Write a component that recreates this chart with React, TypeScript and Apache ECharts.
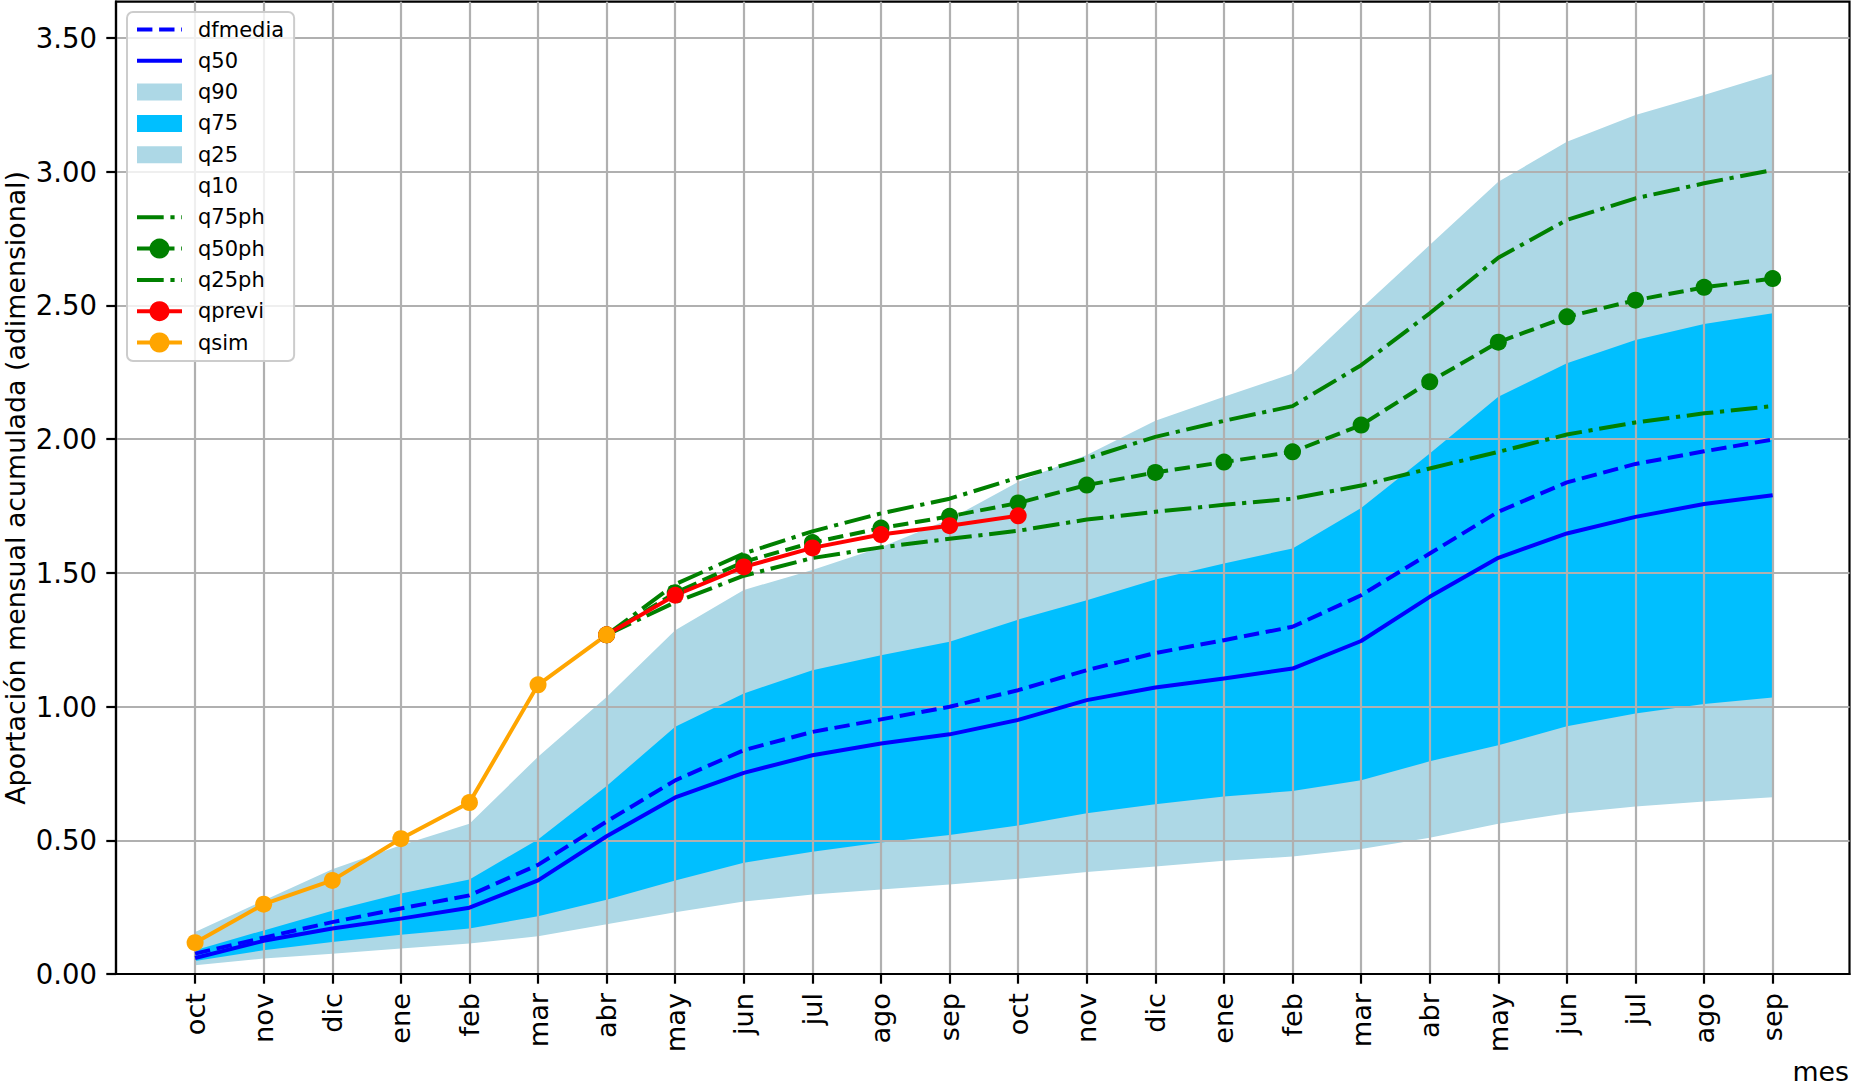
import React, { useEffect, useRef } from 'react';
import * as echarts from 'echarts';

const months = ['oct', 'nov', 'dic', 'ene', 'feb', 'mar', 'abr', 'may', 'jun', 'jul', 'ago', 'sep',
  'oct', 'nov', 'dic', 'ene', 'feb', 'mar', 'abr', 'may', 'jun', 'jul', 'ago', 'sep'];
const xTicks = months.map((_, i) => i);
const yTicks = [0, 0.5, 1, 1.5, 2, 2.5, 3, 3.5];

const dfmedia = [0.076, 0.136, 0.194, 0.245, 0.294, 0.408, 0.57, 0.724, 0.837, 0.905, 0.952, 0.999,
  1.061, 1.136, 1.2, 1.248, 1.298, 1.416, 1.572, 1.728, 1.838, 1.907, 1.954, 1.998];
const q50 = [0.06, 0.124, 0.17, 0.207, 0.248, 0.35, 0.515, 0.66, 0.752, 0.818, 0.862, 0.896,
  0.95, 1.024, 1.071, 1.105, 1.142, 1.245, 1.41, 1.556, 1.647, 1.709, 1.757, 1.79];
const q90 = [0.157, 0.275, 0.392, 0.481, 0.562, 0.812, 1.036, 1.285, 1.436, 1.51, 1.595, 1.7,
  1.84, 1.94, 2.068, 2.158, 2.245, 2.488, 2.725, 2.962, 3.111, 3.211, 3.286, 3.365];
const q75 = [0.089, 0.163, 0.236, 0.301, 0.353, 0.503, 0.703, 0.924, 1.049, 1.136, 1.192, 1.242,
  1.325, 1.397, 1.475, 1.535, 1.591, 1.742, 1.946, 2.158, 2.283, 2.37, 2.43, 2.47];
const q25 = [0.049, 0.089, 0.12, 0.147, 0.17, 0.216, 0.278, 0.35, 0.416, 0.457, 0.492, 0.52,
  0.555, 0.601, 0.635, 0.664, 0.684, 0.724, 0.795, 0.855, 0.926, 0.974, 1.009, 1.034];
const q10 = [0.033, 0.058, 0.076, 0.095, 0.114, 0.141, 0.186, 0.231, 0.271, 0.297, 0.316, 0.335,
  0.356, 0.381, 0.402, 0.423, 0.439, 0.467, 0.509, 0.562, 0.601, 0.626, 0.645, 0.661];
const q75ph = [null, null, null, null, null, null, 1.268, 1.457, 1.572, 1.655, 1.722, 1.777,
  1.856, 1.927, 2.008, 2.068, 2.123, 2.276, 2.47, 2.678, 2.819, 2.9, 2.956, 3.006];
const q50ph = [null, null, null, null, null, null, 1.268, 1.425, 1.541, 1.613, 1.667, 1.711,
  1.761, 1.828, 1.875, 1.914, 1.952, 2.052, 2.214, 2.362, 2.457, 2.519, 2.567, 2.6];
const q25ph = [null, null, null, null, null, null, 1.268, 1.39, 1.489, 1.555, 1.595, 1.627,
  1.657, 1.699, 1.728, 1.754, 1.777, 1.826, 1.89, 1.952, 2.017, 2.062, 2.096, 2.123];
const qprevi = [null, null, null, null, null, null, 1.268, 1.416, 1.522, 1.593, 1.643, 1.676,
  1.713, null, null, null, null, null, null, null, null, null, null, null];
const qsim = [0.117, 0.261, 0.35, 0.506, 0.641, 1.081, 1.268, null, null, null, null, null,
  null, null, null, null, null, null, null, null, null, null, null, null];

const FONT = 'DejaVu Sans';

export default function App() {
  const ref = useRef<HTMLDivElement>(null);
  useEffect(() => {
    const chart = echarts.init(ref.current as HTMLDivElement, null, { renderer: 'svg' });
    const pts = (arr: (number | null)[]) =>
      arr.map((v, i) => [i, v]).filter((d) => d[1] !== null);
    const dash = [15.4, 6.7];
    const dashDot = [26.7, 6.7, 4.2, 6.7];
    const lw = 4;
    const fill = (name: string, data: number[], color: string) => ({
      name, type: 'line', data: pts(data), z: 1, symbol: 'none', showSymbol: false, silent: true,
      lineStyle: { width: 0, color }, itemStyle: { color },
      areaStyle: { color, opacity: 1, origin: 'start' },
    });
    const line = (name: string, data: (number | null)[], color: string, type: any, marker: boolean) => ({
      name, type: 'line', data: pts(data), z: 3,
      symbol: marker ? 'circle' : 'none', symbolSize: 17, showSymbol: marker,
      lineStyle: { width: lw, color, type, cap: 'butt', join: 'round' },
      itemStyle: { color, borderWidth: 0 },
    });
    const rectIcon = 'path://M0,0h45v17h-45z';
    const noMark = { itemStyle: { opacity: 0 } };
    chart.setOption({
      animation: false,
      backgroundColor: '#ffffff',
      grid: {
        left: 116, right: 1.5, top: 1.7, bottom: 113,
        outerBoundsMode: 'none', containLabel: false,
        show: true, borderColor: '#000', borderWidth: 2.2, backgroundColor: 'transparent',
      },
      xAxis: {
        type: 'value', min: -1.153, max: 24.12, z: 2,
        axisLine: { show: true, onZero: false, lineStyle: { color: '#000', width: 2.2 } },
        axisTick: { show: true, customValues: xTicks, length: 9.7, lineStyle: { color: '#000', width: 2.2 } },
        axisLabel: {
          customValues: xTicks, rotate: 90, margin: 19, fontSize: 27.2, fontFamily: FONT, color: '#000',
          formatter: (v: number) => months[Math.round(v)] ?? '',
        },
        splitLine: { show: true, lineStyle: { color: '#b0b0b0', width: 2.2 } },
      },
      yAxis: {
        type: 'value', min: 0, max: 3.635, z: 2,
        name: 'Aportación mensual acumulada (adimensional)',
        nameLocation: 'middle', nameGap: 87, nameMoveOverlap: false,
        nameTextStyle: { fontSize: 26.8, fontFamily: FONT, color: '#000' },
        axisLine: { show: true, onZero: false, lineStyle: { color: '#000', width: 2.2 } },
        axisTick: { show: true, customValues: yTicks, length: 9.7, lineStyle: { color: '#000', width: 2.2 } },
        axisLabel: {
          customValues: yTicks, margin: 19, fontSize: 27.5, fontFamily: FONT, color: '#000',
          formatter: (v: number) => v.toFixed(2),
        },
        splitLine: { show: true, lineStyle: { color: '#b0b0b0', width: 2.2 } },
      },
      graphic: [
        { type: 'text', right: 2, bottom: 2, style: { text: 'mes', font: `26.8px "${FONT}"`, fill: '#000' } },
      ],
      legend: {
        orient: 'vertical', left: 127, top: 12,
        itemWidth: 45, itemHeight: 25, itemGap: 10.3,
        padding: [7, 10, 8, 8],
        backgroundColor: 'rgba(255,255,255,0.8)', borderColor: '#cccccc', borderWidth: 2, borderRadius: 6,
        selectedMode: false,
        lineStyle: { width: 4 },
        textStyle: { fontSize: 21, fontFamily: FONT, color: '#000', padding: [0, 0, 0, 11] },
        data: [
          { name: 'dfmedia', ...noMark }, { name: 'q50', ...noMark },
          { name: 'q90', icon: rectIcon }, { name: 'q75', icon: rectIcon },
          { name: 'q25', icon: rectIcon }, { name: 'q10', icon: rectIcon },
          { name: 'q75ph', ...noMark }, { name: 'q50ph' }, { name: 'q25ph', ...noMark },
          { name: 'qprevi' }, { name: 'qsim' },
        ],
      },
      series: [
        fill('q90', q90, '#add8e6'),
        fill('q75', q75, '#00bfff'),
        fill('q25', q25, '#add8e6'),
        fill('q10', q10, '#ffffff'),
        line('dfmedia', dfmedia, '#0000ff', dash, false),
        line('q50', q50, '#0000ff', 'solid', false),
        line('q75ph', q75ph, '#008000', dashDot, false),
        line('q50ph', q50ph, '#008000', dash, true),
        line('q25ph', q25ph, '#008000', dashDot, false),
        line('qprevi', qprevi, '#ff0000', 'solid', true),
        line('qsim', qsim, '#ffa500', 'solid', true),
      ],
    });
    return () => chart.dispose();
  }, []);
  return (
    <div
      ref={ref}
      style={{ position: 'fixed', left: 0, top: 0, width: 1851, height: 1087, background: '#fff' }}
    />
  );
}
